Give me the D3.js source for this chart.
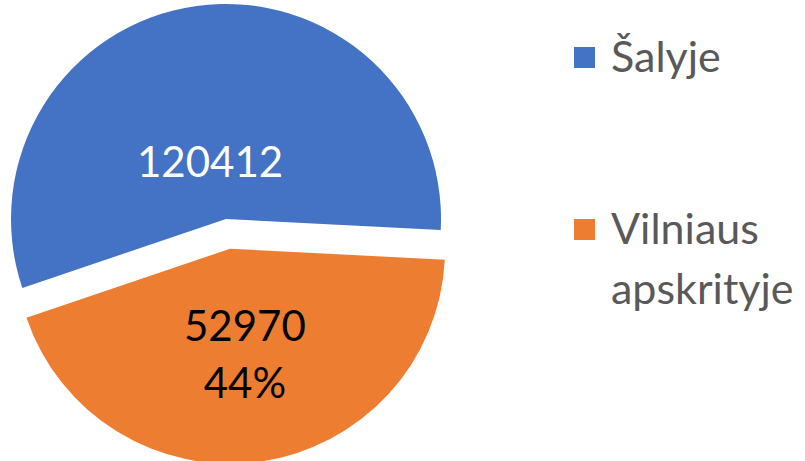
<!DOCTYPE html>
<html>
<head>
<meta charset="utf-8">
<script src="https://cdn.jsdelivr.net/npm/d3@7"></script>
<style>
  body { margin: 0; background: #fff; }
  svg { display: block; }
</style>
</head>
<body>
<svg width="805" height="461"></svg>
<script>
// data
var categories = ["Šalyje", "Vilniaus apskrityje"];
var values = [120412, 52970];          // shown values
var percentLabels = ["", "44%"];       // percent shown on the slice
var colors = ["#4472C4", "#ED7D31"];

// Šalyje includes Vilniaus apskritis, so the slices are remainder + part
var sliceValues = [values[0] - values[1], values[1]];

var svg = d3.select("svg"),
    width = +svg.attr("width"),
    height = +svg.attr("height");

var radius = 215,
    cx = 226, cy = 219,
    explode = [0, 30],
    labelRadius = [0.27, 0.5];

var start = 251.3 * Math.PI / 180;

var pie = d3.pie()
  .sort(null)
  .value(function(d) { return d; })
  .startAngle(start)
  .endAngle(start + 2 * Math.PI);

var arcs = pie(sliceValues);

var arc = d3.arc().innerRadius(0).outerRadius(radius);

var g = svg.append("g").attr("transform", "translate(" + cx + "," + cy + ")");

function shift(d, i) {
  var a = (d.startAngle + d.endAngle) / 2;
  return [Math.sin(a) * explode[i], -Math.cos(a) * explode[i]];
}

var slices = g.selectAll("g.slice")
  .data(arcs)
  .enter().append("g")
  .attr("class", "slice")
  .attr("transform", function(d, i) {
    var s = shift(d, i);
    return "translate(" + s[0] + "," + s[1] + ")";
  });

slices.append("path")
  .attr("d", arc)
  .attr("fill", function(d, i) { return colors[i]; });

// labels
slices.each(function(d, i) {
  var la = d3.arc().innerRadius(radius * labelRadius[i]).outerRadius(radius * labelRadius[i]);
  var c = la.centroid(d);
  var t = d3.select(this).append("text")
    .attr("text-anchor", "middle")
    .attr("font-family", "Lato, 'Open Sans', sans-serif")
    .attr("font-size", 42)
    .attr("fill", i == 0 ? "#ffffff" : "#000000");
  if (percentLabels[i]) {
    t.append("tspan").attr("x", c[0]).attr("y", c[1] - 14).text(values[i]);
    t.append("tspan").attr("x", c[0]).attr("y", c[1] + 43).text(percentLabels[i]);
  } else {
    t.append("tspan").attr("x", c[0] - 8).attr("y", c[1] + 15).text(values[i]);
  }
});

// legend
var legend = svg.append("g").attr("transform", "translate(574,47)");
var legendRows = [["Šalyje"], ["Vilniaus", "apskrityje"]];
var ly = [0, 172];

legendRows.forEach(function(lines, i) {
  var row = legend.append("g").attr("transform", "translate(0," + ly[i] + ")");
  row.append("rect")
    .attr("width", 21).attr("height", 21)
    .attr("fill", colors[i]);
  var t = row.append("text")
    .attr("font-family", "Lato, 'Open Sans', sans-serif")
    .attr("font-size", 43)
    .attr("fill", "#595959");
  lines.forEach(function(s, j) {
    t.append("tspan").attr("x", 37).attr("y", 25 + j * 60).text(s);
  });
});
</script>
</body>
</html>
